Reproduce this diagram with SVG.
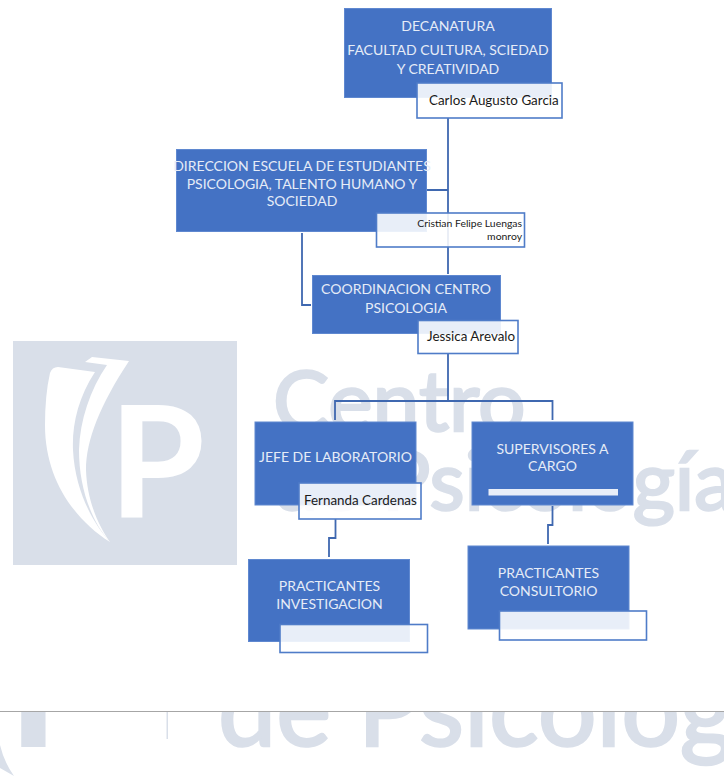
<svg xmlns="http://www.w3.org/2000/svg" width="724" height="780" viewBox="0 0 724 780">
<defs>
<style>
.wm{fill:#d9dfe9;stroke:#d9dfe9;stroke-width:2.500px;font-family:Lato,"Open Sans",sans-serif;font-weight:400}
.box{fill:#4472c4;stroke:#5f88d0;stroke-width:1}
.note{fill:#fff;fill-opacity:.88;stroke:#4f7cc8;stroke-width:1.6}
.t{fill:#e6ecf7;font-family:Lato,"Open Sans",sans-serif;font-size:14px;text-anchor:middle}
.n{fill:#1a1a1a;font-family:Lato,"Open Sans",sans-serif;font-size:13.400px}
.c{fill:none;stroke:#3f68b0;stroke-width:1.8}
</style>
<clipPath id="bottom"><rect x="0" y="712" width="724" height="68"/></clipPath>
</defs>
<rect width="724" height="780" fill="#fff"/>
<g id="watermark">
<rect x="13" y="341" width="224" height="224" fill="#d9dfe9"/>
<path d="M50 373 Q52 367 58 367 L95 372 C78 398 72 425 73 450 C75 490 92 522 110 542 C75 520 45 480 45 425 Q45 395 50 373Z" fill="#fff"/>
<path d="M85 362 L92 357 L129 361 C100 405 86 440 86 470 C87 500 98 525 110 542 C90 520 79 485 79 450 C80 420 90 390 107 365Z" fill="#fff"/>
<text x="109" y="518" font-family="Lato,Open Sans,sans-serif" font-weight="700" font-size="155" fill="#fff">P</text>
<text class="wm" x="273" y="431" font-size="84">Centro</text>
<text class="wm" x="273" y="510" font-size="81">de Psicología</text>
<g clip-path="url(#bottom)">
<text class="wm" x="218" y="746" font-size="104">de Psicología</text>
<text x="9" y="746" font-family="Lato,Open Sans,sans-serif" font-weight="700" font-size="165" fill="#d9dfe9" stroke="#d9dfe9" stroke-width="2">P</text>
<rect x="166.500" y="712" width="1.500" height="27" fill="#d9dfe9"/>
<path d="M0 745 Q4 762 14 776 L0 768Z" fill="#d9dfe9"/>
</g>
<rect x="0" y="711" width="724" height="1" fill="#a6a6a6"/>
</g>
<g id="connectors">
<path class="c" d="M448 118V274M427 190H448"/>
<path class="c" d="M302 233V305H311"/>
<path class="c" d="M448 353V401M335 420V401H552.500V420"/>
<path class="c" d="M335.500 519V538H329V557"/>
<path class="c" d="M552.500 506V525H548V544"/>
</g>
<g id="decanatura">
<rect class="box" x="344.500" y="8.500" width="207" height="89"/>
<text class="t" x="448" y="31">DECANATURA</text>
<text class="t" x="448" y="55">FACULTAD CULTURA, SCIEDAD</text>
<text class="t" x="448" y="74">Y CREATIVIDAD</text>
<rect class="note" x="417" y="83" width="145" height="35"/>
<text class="n" x="429" y="105">Carlos Augusto Garcia</text>
</g>
<g id="direccion">
<rect class="box" x="176.500" y="149.500" width="250" height="82"/>
<text class="t" x="302" y="171">DIRECCION ESCUELA DE ESTUDIANTES</text>
<text class="t" x="302" y="189">PSICOLOGIA, TALENTO HUMANO Y</text>
<text class="t" x="302" y="206">SOCIEDAD</text>
<rect class="note" x="376.500" y="213" width="148" height="34"/>
<text class="n" x="522" y="227" text-anchor="end" style="font-size:10.400px">Cristian Felipe Luengas</text>
<text class="n" x="522" y="240" text-anchor="end" style="font-size:10.400px">monroy</text>
</g>
<g id="coordinacion">
<rect class="box" x="312.500" y="275.500" width="188" height="58"/>
<text class="t" x="406" y="294">COORDINACION CENTRO</text>
<text class="t" x="406" y="313">PSICOLOGIA</text>
<rect class="note" x="418" y="320.500" width="100" height="33"/>
<text class="n" x="427" y="341">Jessica Arevalo</text>
</g>
<g id="jefe">
<rect class="box" x="255" y="422" width="161" height="83"/>
<text class="t" x="335.500" y="462">JEFE DE LABORATORIO</text>
<rect class="note" x="299" y="483" width="122" height="36"/>
<text class="n" x="304" y="505">Fernanda Cardenas</text>
</g>
<g id="supervisores">
<rect class="box" x="472" y="422" width="161" height="83"/>
<text class="t" x="552.500" y="454">SUPERVISORES A</text>
<text class="t" x="552.500" y="471">CARGO</text>
<rect x="488.500" y="489" width="129.500" height="6.500" fill="#e9eef8"/>
</g>
<g id="investigacion">
<rect class="box" x="248.500" y="559.500" width="161" height="82"/>
<text class="t" x="329.500" y="591">PRACTICANTES</text>
<text class="t" x="329.500" y="609">INVESTIGACION</text>
<rect class="note" x="280" y="624.500" width="147.500" height="28"/>
</g>
<g id="consultorio">
<rect class="box" x="468" y="546" width="161" height="83"/>
<text class="t" x="548.500" y="578">PRACTICANTES</text>
<text class="t" x="548.500" y="596">CONSULTORIO</text>
<rect class="note" x="499.500" y="611" width="147" height="29"/>
</g>
</svg>
